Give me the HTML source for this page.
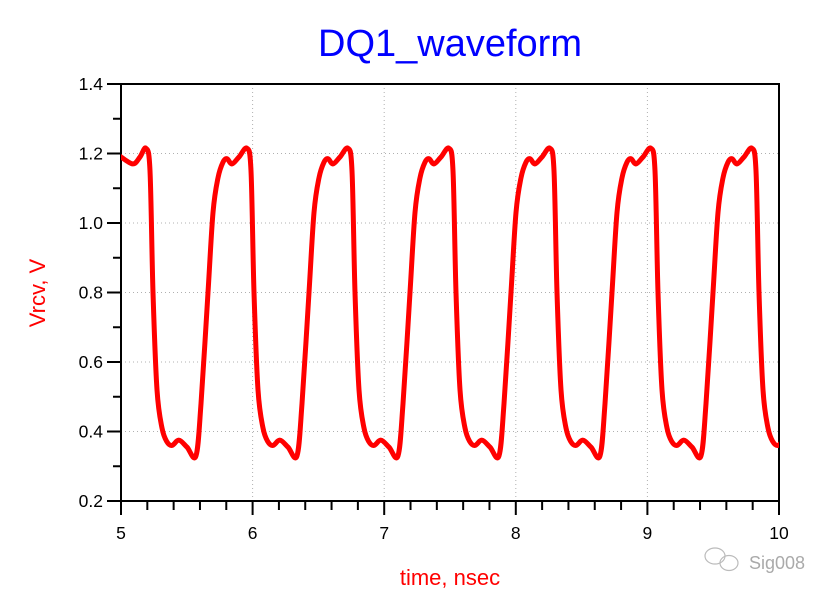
<!DOCTYPE html>
<html><head><meta charset="utf-8"><style>
html,body{margin:0;padding:0;background:#fff;}
svg{display:block;font-family:"Liberation Sans",Arial,sans-serif;}
</style></head><body>
<svg id="s" width="837" height="600" viewBox="0 0 837 600" xmlns="http://www.w3.org/2000/svg">
<text x="450" y="56" font-size="38" fill="#0000ff" text-anchor="middle">DQ1_waveform</text>
<g id="grid" stroke="#b0b0b0" stroke-width="1" stroke-dasharray="1,3"></g>
<g id="axes" stroke="#000" stroke-width="2" fill="none"></g>
<g id="labels" font-size="17.5" fill="#000"></g>
<text transform="translate(45,293) rotate(-90)" font-size="22" fill="#ff0000" text-anchor="middle">Vrcv, V</text>
<text x="450" y="585" font-size="22" fill="#ff0000" text-anchor="middle">time, nsec</text>
<defs><clipPath id="c"><rect x="121" y="84" width="658" height="417"/></clipPath></defs>
<path id="w" clip-path="url(#c)" fill="none" stroke="#ff0000" stroke-width="5" stroke-linejoin="round"/>
<g fill="none" stroke="#bbb" stroke-width="1.2">
<ellipse cx="715" cy="556" rx="10" ry="8"/><ellipse cx="729" cy="563" rx="9" ry="7.5"/>
</g>
<text x="749" y="569" font-size="18" fill="#aaa">Sig008</text>
</svg>
<script>
const L=121,R=779,T=84,B=501;
const X=t=>L+(t-5)/5*(R-L), Y=v=>B-(v-0.2)/1.2*(B-T);
let g='',a='',lb='';
for(let i=6;i<10;i++){g+=`<line x1="${X(i)}" y1="${T}" x2="${X(i)}" y2="${B}"/>`;}
for(let v=0.4;v<1.39;v+=0.2){g+=`<line x1="${L}" y1="${Y(v)}" x2="${R}" y2="${Y(v)}"/>`;}
document.getElementById('grid').innerHTML=g;
a+=`<rect x="${L}" y="${T}" width="${R-L}" height="${B-T}"/>`;
for(let i=0;i<=25;i++){const x=X(5+i*0.2);a+=`<line x1="${x}" y1="${B}" x2="${x}" y2="${i%5==0?B+14:B+9}"/>`;}
for(let i=0;i<=12;i++){const y=Y(0.2+i*0.1);a+=`<line x1="${L}" y1="${y}" x2="${i%2==0?L-14:L-8}" y2="${y}"/>`;}
document.getElementById('axes').innerHTML=a;
for(let i=5;i<=10;i++)lb+=`<text x="${X(i)}" y="539" text-anchor="middle">${i}</text>`;
for(let i=0;i<=6;i++){const v=0.2+i*0.2;lb+=`<text x="103" y="${Y(v)+6}" text-anchor="end">${v.toFixed(1)}</text>`;}
document.getElementById('labels').innerHTML=lb;
const key=[[-7,1.215],[-3,1.15],[0,0.8],[4,0.52],[9,0.41],[14,0.37],[19,0.36],[26,0.375],[34,0.355],[43,0.33],[48,0.48],[55,0.8],[60,1.03],[65,1.13],[70,1.175],[74,1.185],[79,1.17],[86,1.19]];
let pts=[[116,Y(1.2)],[121,Y(1.19)],[133,Y(1.17)],[140,Y(1.19)]];
for(let k=0;k<8;k++){const F=153+101*k;for(const [dx,v] of key)pts.push([F+dx,Y(v)]);}
let d=`M${pts[0][0]},${pts[0][1]}`;
for(let i=0;i<pts.length-1;i++){const p0=pts[Math.max(0,i-1)],p1=pts[i],p2=pts[i+1],p3=pts[Math.min(pts.length-1,i+2)];
d+=`C${p1[0]+(p2[0]-p0[0])/6},${p1[1]+(p2[1]-p0[1])/6} ${p2[0]-(p3[0]-p1[0])/6},${p2[1]-(p3[1]-p1[1])/6} ${p2[0]},${p2[1]}`;}
document.getElementById('w').setAttribute('d',d);
</script>
</body></html>
